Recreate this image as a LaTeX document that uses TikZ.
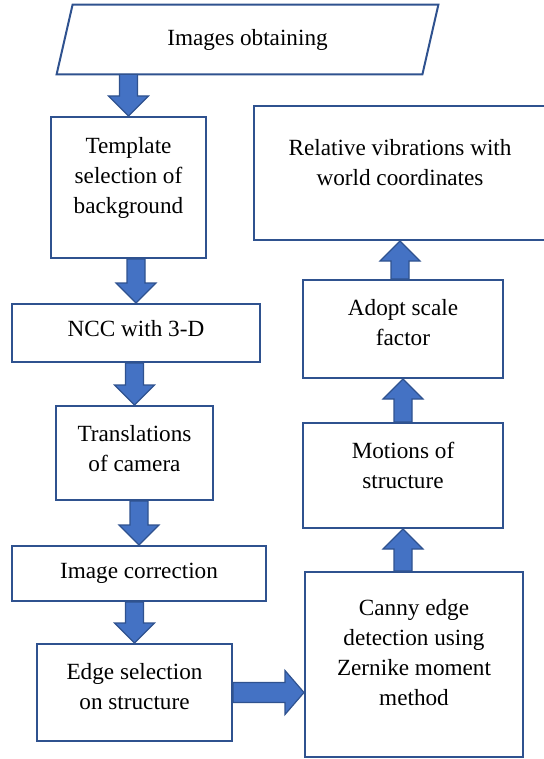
\documentclass[tikz,border=0pt]{standalone}
\usepackage{fontspec}
\setmainfont{Liberation Serif}
\usepackage{tikz}
\usetikzlibrary{positioning,
        calc}
\definecolor{boxblue}{HTML}{2F528F}
\definecolor{arrowblue}{HTML}{4472C4}
\newcommand{\boxfont}{\fontsize{11.6}{15}\selectfont}
\tikzset{
    flowbox/.style={rectangle, draw=boxblue, line width=1pt, inner sep=0pt, font=\boxfont},
    boxtext/.style={align=center, font=\boxfont, inner sep=0pt},
    blockarrow/.style={draw=boxblue, fill=arrowblue, line width=0.6pt, line join=miter}
}
% block arrows, the tip sits on the second node
\newcommand{\downblock}[2]{\draw[blockarrow] let \p1=(#2.north), \p2=(#1.south) in
    (\x1-4.5pt,\y2) -- (\x1+4.5pt,\y2) -- (\x1+4.5pt,\y1+10pt) -- (\x1+10pt,\y1+10pt)
    -- (\x1,\y1) -- (\x1-10pt,\y1+10pt) -- (\x1-4.5pt,\y1+10pt) -- cycle;}
\newcommand{\upblock}[2]{\draw[blockarrow] let \p1=(#2.south), \p2=(#1.north) in
    (\x1-4.5pt,\y2) -- (\x1+4.5pt,\y2) -- (\x1+4.5pt,\y1-10pt) -- (\x1+10pt,\y1-10pt)
    -- (\x1,\y1) -- (\x1-10pt,\y1-10pt) -- (\x1-4.5pt,\y1-10pt) -- cycle;}
\newcommand{\rightblock}[2]{\draw[blockarrow] let \p1=(#1.east), \p2=(#2.west) in
    (\x1,\y1+5pt) -- (\x2-9.5pt,\y1+5pt) -- (\x2-9.5pt,\y1+11pt) -- (\x2,\y1)
    -- (\x2-9.5pt,\y1-11pt) -- (\x2-9.5pt,\y1-5pt) -- (\x1,\y1-5pt) -- cycle;}

\begin{document}
\begin{tikzpicture}[x=0.5pt, y=-0.5pt]
            \useasboundingbox (0,0) rectangle (543,759);

            % left column
            \node [rectangle, inner sep=0pt, font=\boxfont,
                   minimum width=190.5pt, minimum height=34.5pt] (images) at (247.5,39.5) {Images obtaining};
            \draw [boxblue, line width=1pt] ([xshift=8pt]images.north west) -- (images.north east)
                -- ([xshift=-8pt]images.south east) -- (images.south west) -- cycle;
            \node [flowbox, minimum width=77.5pt, minimum height=70.5pt,
                   label={[boxtext,yshift=4.75pt]center:{Template\\selection of\\background}}] (template) at (128.5,187.5) {};
            \node [flowbox, minimum width=124pt, minimum height=29pt,
                   label={[boxtext,yshift=2.25pt]center:{NCC with 3-D}}] (ncc) at (136,333) {};
            \node [flowbox, minimum width=78.5pt, minimum height=47pt,
                   label={[boxtext,yshift=2pt]center:{Translations\\of camera}}] (camera) at (134.5,453) {};
            \node [flowbox, minimum width=127pt, minimum height=27.5pt,
                   label={[boxtext]center:{Image correction}}] (correction) at (139,573.5) {};
            \node [flowbox, minimum width=97.5pt, minimum height=48.5pt,
                   label={[boxtext,yshift=3pt]center:{Edge selection\\on structure}}] (edge) at (134.5,692.5) {};

            % right column
            \node [flowbox, minimum width=109pt, minimum height=92.5pt,
                   label={[boxtext,yshift=5.75pt]center:{Canny edge\\detection using\\Zernike moment\\method}}] (canny) at (414,664.5) {};
            \node [flowbox, minimum width=100pt, minimum height=52.5pt,
                   label={[boxtext,yshift=5.25pt]center:{Motions of\\structure}}] (motions) at (403,475.5) {};
            \node [flowbox, minimum width=100pt, minimum height=49pt,
                   label={[boxtext,yshift=3pt]center:{Adopt scale\\factor}}] (scale) at (403,329) {};
            \node [flowbox, minimum width=146pt, minimum height=67pt,
                   label={[boxtext,yshift=5pt]center:{Relative vibrations with\\world coordinates}}] (world) at (400,173) {};

            \downblock{images}{template}
            \downblock{template}{ncc}
            \downblock{ncc}{camera}
            \downblock{camera}{correction}
            \downblock{correction}{edge}
            \rightblock{edge}{canny}
            \upblock{canny}{motions}
            \upblock{motions}{scale}
            \upblock{scale}{world}
        \end{tikzpicture}
\end{document}
